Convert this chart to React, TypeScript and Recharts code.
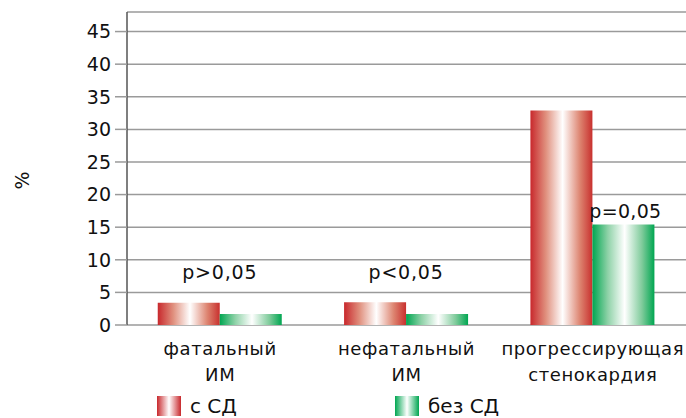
import { BarChart, Bar, XAxis, YAxis, CartesianGrid, LabelList, Legend } from "recharts";

const categories = ["фатальный|ИМ", "нефатальный|ИМ", "прогрессирующая|стенокардия"];
const withDiabetes = [3.4, 3.5, 32.9];
const withoutDiabetes = [1.7, 1.7, 15.4];
const pValues = ["p>0,05", "p<0,05", "p=0,05"];
const yTicks = [0, 5, 10, 15, 20, 25, 30, 35, 40, 45];

const SERIES = [
  { key: "sd", name: "с СД", color: "#c8282c" },
  { key: "noSd", name: "без СД", color: "#00a651" },
];

const data = categories.map((c, i) => ({
  name: c,
  sd: withDiabetes[i],
  noSd: withoutDiabetes[i],
  p: pValues[i],
}));

const FONT = "'DejaVu Sans', sans-serif";

function CategoryTick({ x, y, payload }: any) {
  const [l1, l2] = String(payload.value).split("|");
  return (
    <text x={x} y={y} textAnchor="middle" fontSize={18} fontFamily={FONT} fill="#111" letterSpacing={0.6}>
      <tspan x={x} dy={22}>{l1}</tspan>
      <tspan x={x} dy={26}>{l2}</tspan>
    </text>
  );
}

function PLabel(props: any) {
  const { x, y, width, index } = props;
  // the last group's label sits right on the green bar, the others over the pair
  const last = index === data.length - 1;
  const cx = last ? x + width / 2 + 2 : x;
  const cy = last ? y - 7 : y - 35;
  return (
    <text x={cx} y={cy} textAnchor="middle" fontSize={19} fontFamily={FONT} fill="#111" letterSpacing={last ? 0.3 : 0.8}>
      {data[index].p}
    </text>
  );
}

function LegendRow() {
  return (
    <div style={{ position: "relative", height: 30, fontFamily: FONT, fontSize: 20, color: "#111" }}>
      {SERIES.map((s, i) => (
        <div
          key={s.key}
          style={{ position: "absolute", left: i === 0 ? 157 : 395, top: 6, display: "flex", alignItems: "center", gap: 9 }}
        >
          <svg width={24} height={20}>
            <defs>
              <linearGradient id={"leg-" + s.key} x1="0" x2="1" y1="0" y2="0">
                <stop offset="0" stopColor={s.color} />
                <stop offset="0.5" stopColor="#ffffff" />
                <stop offset="1" stopColor={s.color} />
              </linearGradient>
            </defs>
            <rect width={24} height={20} fill={`url(#leg-${s.key})`} />
          </svg>
          <span>{s.name}</span>
        </div>
      ))}
    </div>
  );
}

function PercentLabel({ viewBox }: any) {
  const cx = 22;
  const cy = viewBox.y + viewBox.height / 2 + 12;
  return (
    <text x={cx} y={cy} transform={`rotate(-90 ${cx} ${cy})`} textAnchor="middle" dominantBaseline="central" fontSize={19} fontFamily={FONT} fill="#111">
      %
    </text>
  );
}

export default function App() {
  return (
    <div style={{ position: "absolute", left: 0, top: 0, width: 686, height: 418, background: "#fff" }}>
      <BarChart
        width={686}
        height={418}
        data={data}
        margin={{ top: 12, right: 0, bottom: 0, left: 0 }}
        barCategoryGap="16.5%"
        barGap={0}
      >
        <defs>
          <linearGradient id="redGrad" x1="0" x2="1" y1="0" y2="0">
            <stop offset="0" stopColor="#c8282c" />
            <stop offset="0.25" stopColor="#e0907e" />
            <stop offset="0.52" stopColor="#ffffff" />
            <stop offset="0.8" stopColor="#dd8470" />
            <stop offset="1" stopColor="#c8302e" />
          </linearGradient>
          <linearGradient id="greenGrad" x1="0" x2="1" y1="0" y2="0">
            <stop offset="0" stopColor="#00a651" />
            <stop offset="0.25" stopColor="#8fd2a8" />
            <stop offset="0.52" stopColor="#ffffff" />
            <stop offset="0.8" stopColor="#7fcb9b" />
            <stop offset="1" stopColor="#00a651" />
          </linearGradient>
        </defs>
        <CartesianGrid vertical={false} stroke="#9a9a9a" strokeWidth={1.5} />
        <XAxis
          dataKey="name"
          axisLine={false}
          tickLine={false}
          tick={<CategoryTick />}
          interval={0}
          height={63}
        />
        <YAxis
          width={127}
          domain={[0, 48]}
          ticks={yTicks}
          interval={0}
          axisLine={{ stroke: "#555", strokeWidth: 1.5 }}
          tickLine={{ stroke: "#9a9a9a", strokeWidth: 1.5 }}
          tickSize={12}
          tickMargin={4}
          tick={{ fontSize: 19, fontFamily: FONT, fill: "#111" }}
          label={<PercentLabel />}
        />
        <Bar dataKey="sd" name="с СД" fill="url(#redGrad)" isAnimationActive={false} />
        <Bar dataKey="noSd" name="без СД" fill="url(#greenGrad)" isAnimationActive={false}>
          <LabelList dataKey="noSd" content={<PLabel />} />
        </Bar>
        <Legend verticalAlign="bottom" align="left" content={<LegendRow />} wrapperStyle={{ left: 0, width: 686 }} />
      </BarChart>
    </div>
  );
}
